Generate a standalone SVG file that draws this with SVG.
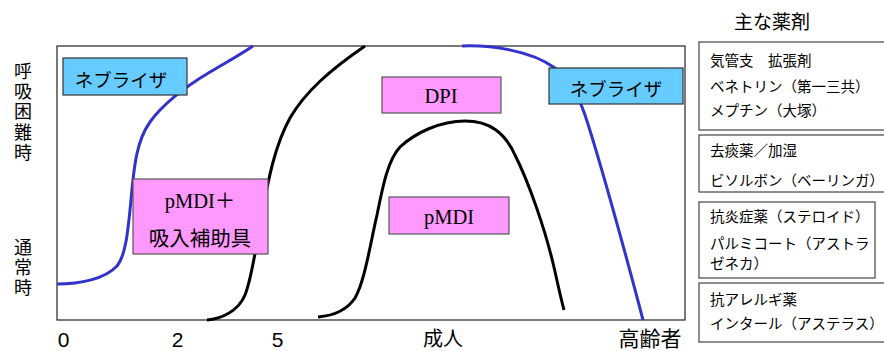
<svg xmlns="http://www.w3.org/2000/svg" width="884" height="351" viewBox="0 0 884 351">
<style>
text{font-family:"Noto Sans CJK JP","Liberation Sans",sans-serif;fill:#000}
.ax{font-size:19px;text-anchor:middle}
.yv{font-size:18px;writing-mode:vertical-rl;letter-spacing:2.3px}
.num{font-family:"Liberation Sans","Noto Sans CJK JP",sans-serif;font-size:21px;text-anchor:middle}
.neb{fill:#66CCFF;stroke:#333;stroke-width:1.2}
.pink{fill:#FF99FF;stroke:#555;stroke-width:1.2}
.lbl{font-size:18.5px;text-anchor:middle}
.ser{font-family:"Liberation Serif","Noto Sans CJK JP",serif;font-size:20.5px;text-anchor:middle}
.med{fill:#fff;stroke:#444;stroke-width:1.2}
.mt{font-size:14.5px}
.blue{fill:none;stroke:#3333CC;stroke-width:3}
.blk{fill:none;stroke:#000;stroke-width:3}
</style>
<rect width="884" height="351" fill="#fff"/>
<rect id="frame" x="57" y="46" width="628" height="274" fill="none" stroke="#222" stroke-width="1.2"/>
<g id="curves">
<path class="blue" d="M57,284 C80,284 105,279 117,266 C126,255 128,230 131,200 C134,165 137,140 150,122 C165,101 190,84 210,72 C225,63 240,55 253,46"/>
<path class="blk" d="M207,320 C220,319 238,312 245,295 C252,278 256,245 262,215 C268,180 275,145 290,118 C305,92 330,70 365,46"/>
<path class="blk" d="M318,317 C330,316 345,313 355,298 C365,280 370,245 377,215 C383,185 388,160 400,147 C415,133 440,121 465,121 C490,121 505,133 515,155 C530,185 545,230 553,263 C557,280 560,295 564,310"/>
<path class="blue" d="M462,46 C490,45 530,50 555,68 C570,80 578,95 585,115 C600,160 630,270 643,320"/>
</g>
<g id="neb-left"><rect class="neb" x="63" y="58" width="124" height="37"/><text class="lbl" x="121" y="87">ネブライザ</text></g>
<g id="neb-right"><rect class="neb" x="549" y="68" width="134" height="36"/><text class="lbl" x="616" y="96">ネブライザ</text></g>
<g id="dpi"><rect class="pink" x="382" y="77" width="119" height="36"/><text class="ser" x="441" y="103">DPI</text></g>
<g id="pmdi"><rect class="pink" x="389" y="197" width="120" height="37"/><text class="ser" x="449" y="224">pMDI</text></g>
<g id="pmdi-plus"><rect class="pink" x="133" y="179" width="135" height="75"/><text class="ser" x="200" y="208">pMDI＋</text><text class="ax" x="200" y="246" style="font-size:20.5px">吸入補助具</text></g>
<g id="yaxis">
<text class="yv" x="23" y="62">呼吸困難時</text>
<text class="yv" x="23" y="238">通常時</text>
</g>
<g id="xaxis">
<text class="num" x="63.5" y="347">0</text><text class="num" x="177.5" y="347">2</text><text class="num" x="277.5" y="347">5</text>
<text class="ax" x="443" y="346" style="font-size:20px">成人</text><text class="ax" x="650" y="346" style="font-size:21px">高齢者</text>
</g>
<g id="meds">
<text class="ax" x="772" y="29">主な薬剤</text>
<g id="med1"><rect class="med" x="699" y="42" width="200" height="88"/><text class="mt" x="710" y="66">気管支　拡張剤</text><text class="mt" x="710" y="92">ベネトリン（第一三共）</text><text class="mt" x="710" y="116">メプチン（大塚）</text></g>
<g id="med2"><rect class="med" x="699" y="135" width="200" height="57"/><text class="mt" x="710" y="156">去痰薬／加湿</text><text class="mt" x="710" y="186">ビソルボン（ベーリンガ）</text></g>
<g id="med3"><rect class="med" x="699" y="202" width="176" height="76"/><text class="mt" x="710" y="222">抗炎症薬（ステロイド）</text><text class="mt" x="710" y="249">パルミコート（アストラ</text><text class="mt" x="710" y="269">ゼネカ）</text></g>
<g id="med4"><rect class="med" x="699" y="283" width="200" height="59"/><text class="mt" x="710" y="305">抗アレルギ薬</text><text class="mt" x="710" y="329">インタール（アステラス）</text></g>
</g>
</svg>
